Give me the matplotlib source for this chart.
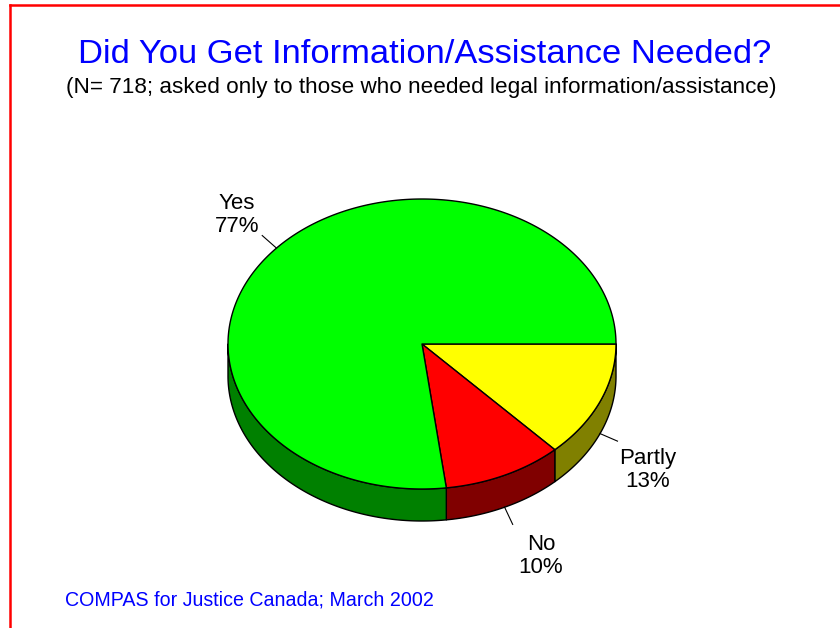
import numpy as np
import matplotlib
matplotlib.use("Agg")
import matplotlib.pyplot as plt
from matplotlib.patches import Polygon
from matplotlib.lines import Line2D

plt.rcParams['font.family'] = ['Liberation Sans', 'DejaVu Sans']

# ---- data ----
categories = ["Partly", "No", "Yes"]
values = [13, 10, 77]
top_colors = ["#FFFF00", "#FF0000", "#00FF00"]
side_colors = ["#808000", "#800000", "#008000"]

title = "Did You Get Information/Assistance Needed?"
subtitle = "(N= 718; asked only to those who needed legal information/assistance)"
footer = "COMPAS for Justice Canada; March 2002"

# ---- layout ----
W, H = 840, 628
cx, cy = 422, 344          # pie centre (pixels)
rx, ry = 194, 145          # ellipse radii
depth = 32                 # 3D thickness
label_pos = {"Partly": (648, 470), "No": (541, 556), "Yes": (237, 215)}

fig = plt.figure(figsize=(W / 100, H / 100), dpi=100)
ax = fig.add_axes([0, 0, 1, 1])
ax.set_xlim(0, W)
ax.set_ylim(H, 0)
ax.axis("off")

def ept(t, dy=0.0):
    return cx + rx * np.cos(t), cy + ry * np.sin(t) + dy

total = float(sum(values))
bounds = np.concatenate([[0], np.cumsum(values)]) / total * 2 * np.pi

# side faces (visible for 0..pi in screen coordinates)
for i in range(len(values)):
    a, b = bounds[i], bounds[i + 1]
    a2, b2 = max(a, 0), min(b, np.pi)
    if b2 <= a2:
        continue
    ts = np.linspace(a2, b2, 200)
    xs, ys = ept(ts)
    xb, yb = ept(ts[::-1], depth)
    pts = np.column_stack([np.concatenate([xs, xb]), np.concatenate([ys, yb])])
    ax.add_patch(Polygon(pts, closed=True, facecolor=side_colors[i],
                         edgecolor="black", linewidth=1.0, joinstyle="round"))

# top faces
for i in range(len(values)):
    a, b = bounds[i], bounds[i + 1]
    ts = np.linspace(a, b, 400)
    xs, ys = ept(ts)
    pts = np.column_stack([np.concatenate([[cx], xs]), np.concatenate([[cy], ys])])
    ax.add_patch(Polygon(pts, closed=True, facecolor=top_colors[i],
                         edgecolor="black", linewidth=1.0, joinstyle="round"))

# leader lines + labels
for i, cat in enumerate(categories):
    m = (bounds[i] + bounds[i + 1]) / 2
    dy = depth if (np.sin(m) > 0) else 0
    x0, y0 = ept(m, dy)
    L = 19
    x1, y1 = x0 + L * np.cos(m), y0 + L * np.sin(m)
    ax.add_line(Line2D([x0, x1], [y0, y1], color="black", linewidth=0.8))
    lx, ly = label_pos[cat]
    ax.text(lx, ly, f"{cat}\n{values[i]}%", ha="center", va="center",
            fontsize=16, color="black", linespacing=1.15)

# titles
ax.text(425, 63, title, ha="center", va="baseline", fontsize=24.8, color="#0000FF")
ax.text(421, 93, subtitle, ha="center", va="baseline", fontsize=16.2, color="black")
ax.text(65, 606, footer, ha="left", va="baseline", fontsize=14.1, color="#0000FF")

# red border (top and left visible)
ax.add_line(Line2D([10, W], [5, 5], color="#FF0000", linewidth=1.8))
ax.add_line(Line2D([10, 10], [5, H], color="#FF0000", linewidth=1.8))

fig.savefig("out.png", dpi=100)
